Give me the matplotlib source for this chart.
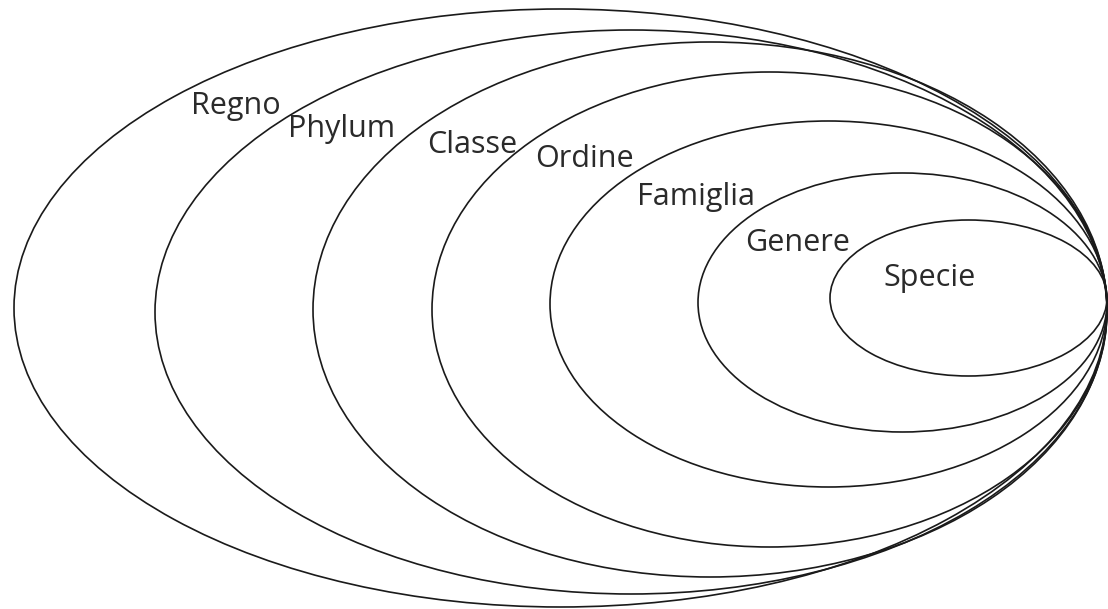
import matplotlib
matplotlib.use("Agg")
import matplotlib.pyplot as plt
from matplotlib.patches import Ellipse

# Taxonomic levels (outermost to innermost)
levels = ["Regno", "Phylum", "Classe", "Ordine", "Famiglia", "Genere", "Specie"]
# Ellipse extents in image pixel units
left   = [14, 155, 313, 432, 550, 698, 830]
right  = [1107, 1107, 1107, 1107, 1107, 1107, 1107]
top    = [9, 30, 42, 72, 121, 173, 220]
bottom = [607, 594, 577, 547, 487, 432, 376]
# Label anchor (left x, baseline y)
label_x = [191, 288, 427, 535, 637, 745, 883]
label_y = [114, 137, 153, 167, 205, 251, 286]

W, H = 1108, 609
fig = plt.figure(figsize=(W / 100, H / 100), dpi=100)
ax = fig.add_axes([0, 0, 1, 1])
ax.set_xlim(0, W)
ax.set_ylim(H, 0)
ax.axis("off")

for l, r, t, b in zip(left, right, top, bottom):
    e = Ellipse(((l + r) / 2, (t + b) / 2), r - l, b - t,
                fill=False, edgecolor="#1a1a1a", linewidth=1.2)
    ax.add_patch(e)

for name, x, y in zip(levels, label_x, label_y):
    ax.text(x, y, name, ha="left", va="baseline", fontsize=22,
            family=["Open Sans", "DejaVu Sans"], color="#2a2a2a")

fig.savefig("out.png", dpi=100)
